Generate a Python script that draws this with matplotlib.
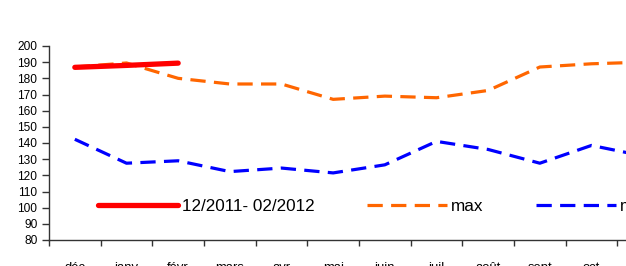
import matplotlib
matplotlib.use("Agg")
import matplotlib.pyplot as plt
import numpy as np

months = ["déc", "janv", "févr", "mars", "avr", "mai", "juin", "juil", "août", "sept", "oct", "nov"]
current = [186.8, 188.0, 189.4]
max_vals = [187.0, 189.5, 180.0, 176.5, 176.5, 167.0, 169.0, 168.0, 172.5, 187.0, 189.0, 190.0]
min_vals = [142.3, 127.5, 129.0, 122.3, 124.5, 121.5, 126.5, 141.0, 136.0, 127.5, 138.5, 132.0]
series_labels = ["12/2011- 02/2012", "max", "min"]
yticks = list(range(80, 201, 10))

plt.rcParams['font.family'] = ['Liberation Sans', 'DejaVu Sans']
plt.rcParams['lines.scale_dashes'] = False

W, H = 626, 266
fig = plt.figure(figsize=(W / 100, H / 100), dpi=100)
ax = fig.add_axes([49 / W, 26 / H, 620 / W, 194 / H])

x = np.arange(len(months))
l1, = ax.plot(x[:len(current)], current, color='#FF0000', lw=3.8, solid_capstyle='round', zorder=4,
              label=series_labels[0])
l2, = ax.plot(x, max_vals, color='#FF6600', lw=2.3, dashes=[11, 6], dash_capstyle='butt', zorder=3,
              label=series_labels[1])
l3, = ax.plot(x, min_vals, color='#0000FF', lw=2.3, dashes=[11, 6], dash_capstyle='butt', zorder=3,
              label=series_labels[2])

ax.set_xlim(-0.5, len(months) - 0.5)
ax.set_ylim(80, 200)
ax.set_yticks(yticks)
ax.set_yticklabels([str(v) for v in yticks], fontsize=8.6)

ax.set_xticks(np.arange(-0.5, len(months), 1.0))
ax.set_xticklabels([])
ax.set_xticks(x, minor=True)
ax.set_xticklabels(months, minor=True, fontsize=9.4)
ax.tick_params(axis='x', which='major', direction='out', length=4, width=1, color='#333333')
ax.tick_params(axis='x', which='minor', length=0, pad=15.5)
ax.tick_params(axis='y', direction='out', length=5, width=1, color='#333333', pad=3.4)

for s in ['top', 'right']:
    ax.spines[s].set_visible(False)
for s in ['left', 'bottom']:
    ax.spines[s].set_color('#333333')
    ax.spines[s].set_linewidth(1)

leg_fs = 12.3
fig.legend(handles=[l1, l2, l3], labels=series_labels, loc='center left',
           bbox_to_anchor=(98 / W, (H - 206.5) / H), ncol=3, frameon=False,
           borderpad=0, borderaxespad=0,
           handlelength=57.6 / leg_fs, handletextpad=2.8 / leg_fs, columnspacing=38 / leg_fs,
           prop={'size': leg_fs})

fig.savefig("out.png", dpi=100)
